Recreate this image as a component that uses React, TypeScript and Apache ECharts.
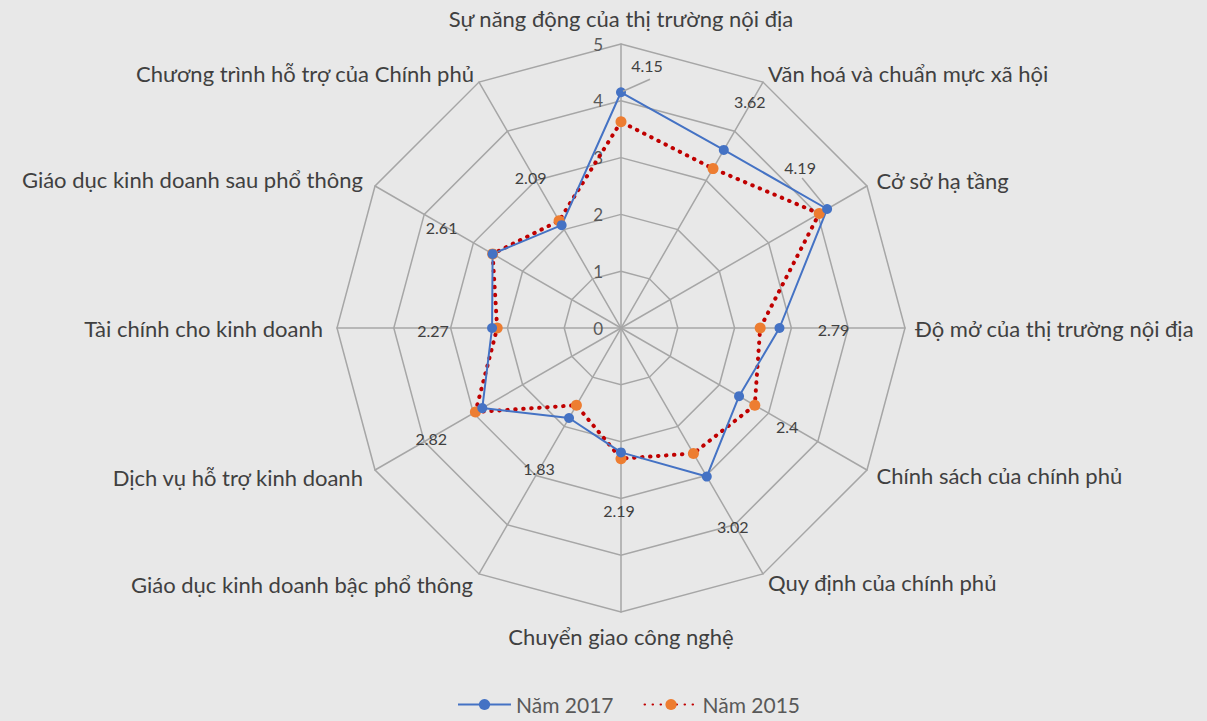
import React, { useEffect, useRef } from "react";
import * as echarts from "echarts";

// Indicators in clockwise order starting at the top
const indicatorNames = [
  "Sự năng động của thị trường nội địa",
  "Văn hoá và chuẩn mực xã hội",
  "Cở sở hạ tầng",
  "Độ mở của thị trường nội địa",
  "Chính sách của chính phủ",
  "Quy định của chính phủ",
  "Chuyển giao công nghệ",
  "Giáo dục kinh doanh bậc phổ thông",
  "Dịch vụ hỗ trợ kinh doanh",
  "Tài chính cho kinh doanh",
  "Giáo dục kinh doanh sau phổ thông",
  "Chương trình hỗ trợ của Chính phủ",
];
const values2017 = [4.15, 3.62, 4.19, 2.79, 2.4, 3.02, 2.19, 1.83, 2.82, 2.27, 2.61, 2.09];
const values2015 = [3.63, 3.24, 4.03, 2.45, 2.72, 2.55, 2.3, 1.57, 2.96, 2.18, 2.61, 2.18];
const seriesNames = ["Năm 2017", "Năm 2015"];
const axisMax = 5;

// label placement (styling) relative to each 2017 point, clockwise order
const labelOffsets = [
  [26, -27], [26, -48], [-27, -42], [54, 1], [48, 30], [26, 50],
  [-2, 58], [-30, 50], [-51, 30], [-59, 2], [-51, -26], [-31, -48],
];
// per-indicator name gaps (styling), clockwise order
const nameGaps = [15, 10, 11, 10, 11, 10, 13, 12, 14, 14, 14, 10];
// leader lines: indicator index, start/end offset from point
const leaderLines = [
  { idx: 0, start: [2, -1], end: [29, -13] },
  { idx: 2, start: [-3, -4], end: [-25, -31] },
];

const CX = 621;
const CY = 328;
const R = 284;
const FONT = "Lato, 'Liberation Sans', sans-serif";

export default function App() {
  const ref = useRef<HTMLDivElement>(null);
  useEffect(() => {
    if (!ref.current) return;
    const chart = echarts.init(ref.current, null, { renderer: "svg" });
    const n = indicatorNames.length;
    // ECharts radar runs counter-clockwise: reorder to draw clockwise
    const ord = [0];
    for (let i = n - 1; i >= 1; i--) ord.push(i);
    const pick = (arr: any[]) => ord.map((i) => arr[i]);

    const gapsOrdered = pick(nameGaps);
    const indicator = pick(indicatorNames).map((name, k) => ({
      name,
      min: 0,
      max: axisMax,
      nameGap: gapsOrdered[k],
      ...(k === 0 ? { axisLabel: { show: true } } : {}),
    }));

    const labelItems = values2017.map((v, i) => {
      const arr = new Array(n).fill(0);
      arr[i] = v;
      return {
        value: pick(arr),
        symbolSize: 1,
        itemStyle: { color: "rgba(0,0,0,0)" },
        lineStyle: { width: 0, opacity: 0 },
        label: {
          show: true,
          position: "inside",
          offset: labelOffsets[i],
          formatter: (p: any) => (p.value === 0 ? "" : String(p.value)),
          color: "#404040",
          fontSize: 16,
          fontFamily: FONT,
        },
      };
    });

    const graphics = leaderLines.map((l) => {
      const v = values2017[l.idx];
      const ang = (l.idx / n) * Math.PI * 2;
      const px = CX + Math.sin(ang) * (v / axisMax) * R;
      const py = CY - Math.cos(ang) * (v / axisMax) * R;
      return {
        type: "line",
        silent: true,
        z: 5,
        shape: { x1: px + l.start[0], y1: py + l.start[1], x2: px + l.end[0], y2: py + l.end[1] },
        style: { stroke: "#a6a6a6", lineWidth: 1.5 },
      };
    });

    chart.setOption({
      animation: false,
      backgroundColor: "#e8e8e8",
      legend: {
        data: seriesNames,
        bottom: 1,
        left: 452,
        itemWidth: 53,
        itemHeight: 14,
        itemGap: 30,
        textStyle: { color: "#595959", fontSize: 21, fontFamily: FONT },
      },
      grid: { left: 0, top: 0, width: 1, height: 1, show: false },
      xAxis: { show: false, type: "category", data: [] },
      yAxis: { show: false, type: "value" },
      radar: {
        center: [CX, CY],
        radius: R,
        startAngle: 90,
        shape: "polygon",
        splitNumber: 5,
        indicator,
        nameGap: 10,
        axisName: { color: "#404040", fontSize: 22, fontFamily: FONT },
        splitLine: { lineStyle: { color: "#a6a6a6", width: 1.5 } },
        splitArea: { show: false },
        axisLine: { lineStyle: { color: "#a6a6a6", width: 1.5 } },
        axisTick: { show: false },
        axisLabel: { show: false, color: "#595959", fontSize: 17, fontFamily: FONT, margin: 18 },
      },
      graphic: graphics,
      series: [
        {
          type: "radar",
          z: 3,
          symbol: "circle",
          data: [
            {
              name: seriesNames[1],
              value: pick(values2015),
              symbolSize: 11,
              itemStyle: { color: "#ed7d31" },
              lineStyle: { color: "#c00000", width: 4, type: [0.5, 7.5], cap: "round" },
            },
            {
              name: seriesNames[0],
              value: pick(values2017),
              symbolSize: 10,
              itemStyle: { color: "#4472c4" },
              lineStyle: { color: "#4472c4", width: 2 },
            },
          ],
        },
        {
          type: "radar",
          z: 4,
          silent: true,
          symbol: "circle",
          data: labelItems,
        },
        {
          type: "line",
          name: seriesNames[0],
          data: [],
          symbol: "circle",
          itemStyle: { color: "#4472c4" },
          lineStyle: { color: "#4472c4", width: 2 },
        },
        {
          type: "line",
          name: seriesNames[1],
          data: [],
          symbol: "circle",
          itemStyle: { color: "#ed7d31" },
          lineStyle: { color: "#c00000", width: 4, type: [0.5, 7.5], cap: "round" },
        },
      ],
    });
    return () => chart.dispose();
  }, []);
  return (
    <div
      ref={ref}
      style={{ position: "fixed", left: 0, top: 0, width: 1207, height: 721 }}
    />
  );
}
